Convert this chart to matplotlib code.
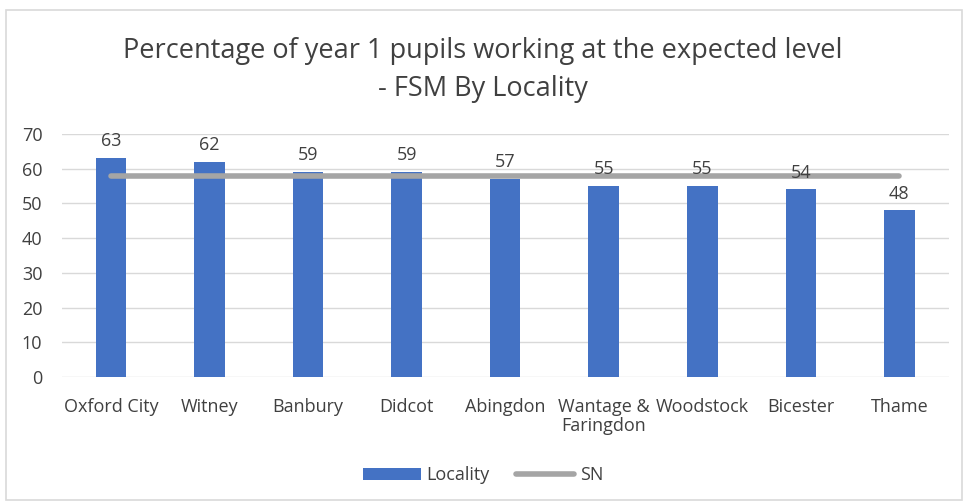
import matplotlib
matplotlib.use("Agg")
import matplotlib.pyplot as plt
from matplotlib.patches import Rectangle

# data
localities = ["Oxford City", "Witney", "Banbury", "Didcot", "Abingdon",
              "Wantage &\nFaringdon", "Woodstock", "Bicester", "Thame"]
locality_pct = [63, 62, 59, 59, 57, 55, 55, 54, 48]
sn_pct = [58, 58, 58, 58, 58, 58, 58, 58, 58]

plt.rcParams['font.family'] = ['Open Sans', 'DejaVu Sans']

fig = plt.figure(figsize=(9.66, 5.03), dpi=100)
ax = fig.add_axes([0.064, 0.25, 0.918, 0.484])

x = list(range(len(localities)))
bars = ax.bar(x, locality_pct, width=0.31, color="#4472C4", label="Locality", zorder=2)
line, = ax.plot(x, sn_pct, color="#A5A5A5", linewidth=4, solid_capstyle="round", label="SN", zorder=3)

for xi, v in zip(x, locality_pct):
    ax.text(xi, v + 2.2, str(v), ha="center", va="bottom", fontsize=13, color="#404040")

ax.set_ylim(0, 70)
ax.set_yticks(range(0, 71, 10))
ax.set_xlim(-0.5, len(localities) - 0.5)
ax.set_xticks(x)
ax.set_xticklabels(localities, fontsize=13, color="#404040", linespacing=1.05)
ax.tick_params(axis="y", labelsize=13, labelcolor="#404040", length=0, pad=14)
ax.tick_params(axis="x", length=0, pad=15)
ax.grid(axis="y", color="#D9D9D9", linewidth=1, zorder=0)
for s in ax.spines.values():
    s.set_visible(False)

fig.text(0.5, 0.898, "Percentage of year 1 pupils working at the expected level",
         ha="center", va="center", fontsize=19.5, color="#404040")
fig.text(0.5, 0.823, "- FSM By Locality", ha="center", va="center", fontsize=19.5, color="#404040")

fig.legend([bars, line], ["Locality", "SN"], loc="center", bbox_to_anchor=(0.5, 0.055),
           ncol=2, frameon=False, fontsize=13, labelcolor="#404040", handlelength=3.2,
           columnspacing=1.5, handletextpad=0.3)

# chart border
fig.patches.append(Rectangle((0.006, 0.006), 0.99, 0.975, transform=fig.transFigure,
                             fill=False, edgecolor="#D9D9D9", linewidth=1.2))

fig.savefig("out.png", dpi=100)
